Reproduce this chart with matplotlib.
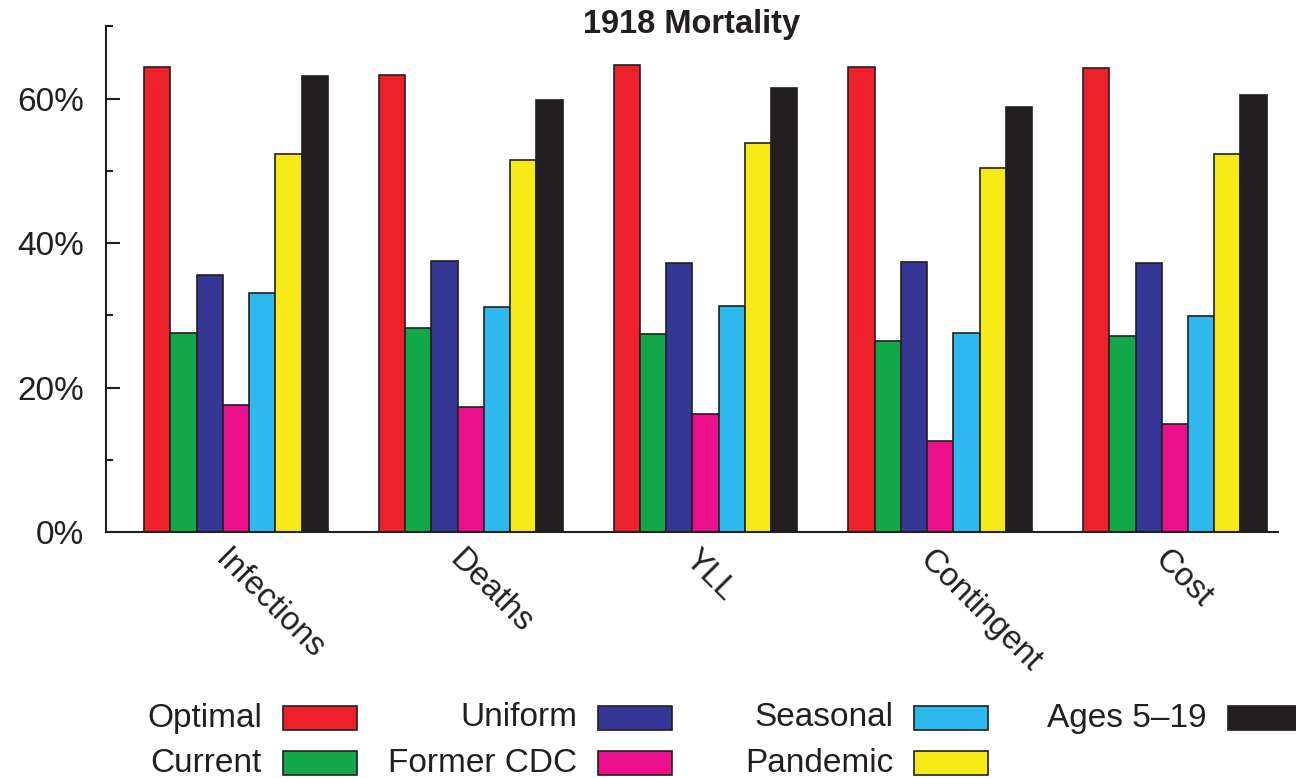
import numpy as np
import matplotlib
matplotlib.use("Agg")
import matplotlib.pyplot as plt
from matplotlib.patches import Rectangle
from matplotlib.transforms import ScaledTranslation

plt.rcParams['font.family'] = ['Liberation Sans', 'DejaVu Sans']

ink = "#231f20"

categories = ["Infections", "Deaths", "YLL", "Contingent", "Cost"]
strategies = ["Optimal", "Current", "Uniform", "Former CDC", "Seasonal", "Pandemic", "Ages 5\u201319"]
colors = ["#ed2129", "#12a84a", "#343796", "#ec0f8c", "#2db9ee", "#f6eb16", "#231f20"]

# percent of each strategy per outcome measure
optimal = [64.4, 63.3, 64.7, 64.4, 64.3]
current = [27.6, 28.2, 27.5, 26.4, 27.1]
uniform = [35.6, 37.6, 37.2, 37.4, 37.2]
former_cdc = [17.6, 17.4, 16.3, 12.7, 15.0]
seasonal = [33.1, 31.1, 31.3, 27.6, 29.9]
pandemic = [52.4, 51.5, 53.8, 50.4, 52.3]
ages_5_19 = [63.1, 59.8, 61.5, 58.8, 60.5]
series = [optimal, current, uniform, former_cdc, seasonal, pandemic, ages_5_19]

fig = plt.figure(figsize=(12.96, 7.78), dpi=100)
ax = fig.add_axes([0.0816, 0.3158, 0.9043, 0.6504])

x = np.arange(len(categories))
w = 0.1117
for i, (vals, c) in enumerate(zip(series, colors)):
    ax.bar(x + (i - 3) * w, vals, width=w, color=c, edgecolor=ink, linewidth=1.2, zorder=2)

ax.set_xlim(-0.555, 4.438)
ax.set_ylim(0, 70)
ax.set_yticks([0, 20, 40, 60])
ax.set_yticks([10, 30, 50, 70], minor=True)
ax.set_yticklabels(["0%", "20%", "40%", "60%"], fontsize=24, color=ink)
ax.tick_params(axis='y', which='major', direction='in', length=9.8, width=1.5, color=ink, pad=15.5)
ax.tick_params(axis='y', which='minor', direction='in', length=5, width=1.5, color=ink)

ax.set_xticks(x)
ax.set_xticklabels(categories, fontsize=23.5, color=ink, rotation=-45,
                   ha='left', va='top', rotation_mode='anchor')
ax.tick_params(axis='x', length=0, pad=8.5)
shift = ScaledTranslation(-5 / 100, 0, fig.dpi_scale_trans)
for lbl in ax.get_xticklabels():
    lbl.set_transform(lbl.get_transform() + shift)

for side in ['top', 'right']:
    ax.spines[side].set_visible(False)
for side in ['left', 'bottom']:
    ax.spines[side].set_color(ink)
    ax.spines[side].set_linewidth(1.5)

ax.text(0.5, 1.003, "1918 Mortality", transform=ax.transAxes, ha='center', va='center',
        fontsize=23.5, fontweight='bold', color=ink)

# legend: label to the left of each swatch, two rows
W, H = 1296.0, 778.0
col_left = [283, 598, 914, 1228]
row_mid = [718, 763]
for i, (name, c) in enumerate(zip(strategies, colors)):
    px = col_left[i // 2]
    py = row_mid[i % 2]
    fig.patches.append(Rectangle((px / W, 1 - (py + 12) / H), 74 / W, 24 / H,
                                 transform=fig.transFigure, facecolor=c,
                                 edgecolor=ink, linewidth=1.2))
    fig.text((px - 21) / W, 1 - py / H, name, ha='right', va='center',
             fontsize=24, color=ink)

fig.savefig("out.png", dpi=100)
